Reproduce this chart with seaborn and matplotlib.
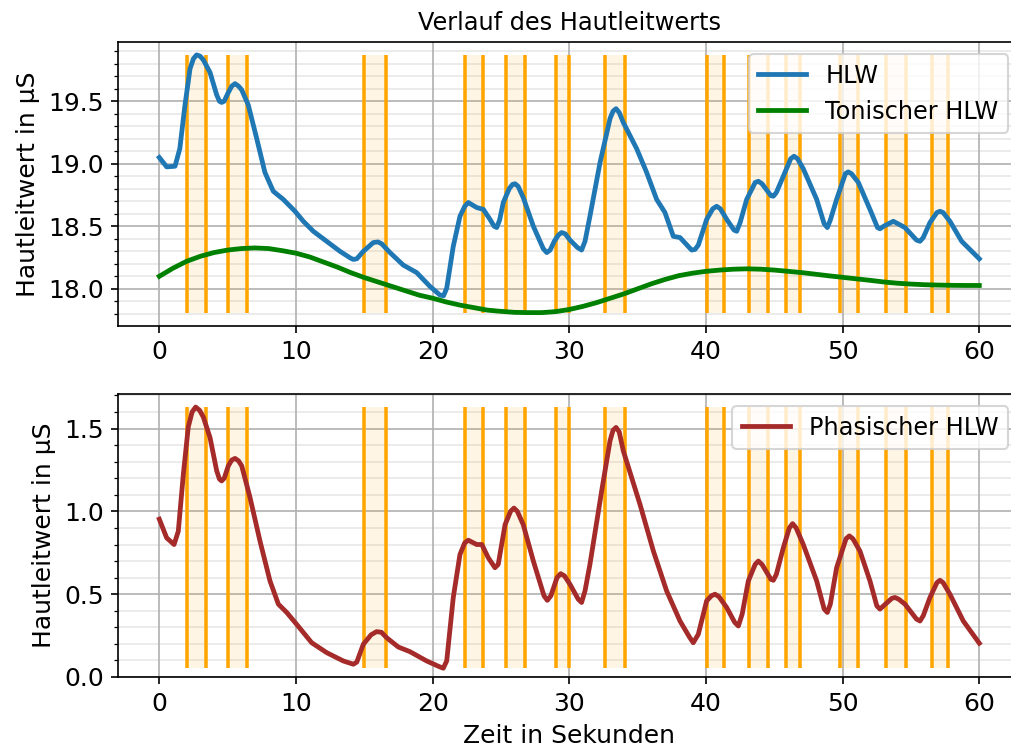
import numpy as np
import pandas as pd
import matplotlib
matplotlib.use("Agg")
import matplotlib.pyplot as plt
from matplotlib.ticker import AutoMinorLocator
import seaborn as sns

# ---- data ----
hlw_t = [0, 0.54, 1.15, 1.5, 1.88, 2.25, 2.5, 2.73, 2.98, 3.22, 3.71, 4.2, 4.4, 4.56, 4.75,
         5.05, 5.3, 5.54, 5.8, 6.03, 6.51, 7.13, 7.73, 8.34, 9.07, 9.93, 10.54, 11.27, 12.25,
         13.22, 14.0, 14.2, 14.45, 14.93, 15.66, 16.0, 16.27, 16.88, 17.85, 18.83, 19.8, 20.54,
         20.8, 21.03, 21.51, 22.0, 22.35, 22.61, 23.22, 23.71, 24.2, 24.5, 24.69, 24.9, 25.17,
         25.6, 25.85, 26.03, 26.25, 26.63, 27.37, 28.1, 28.35, 28.6, 28.9, 29.2, 29.44, 29.7,
         30.05, 30.6, 30.9, 31.15, 31.51, 32.25, 32.98, 33.2, 33.42, 33.65, 33.95, 34.93, 35.66,
         36.39, 37.0, 37.61, 38.1, 38.95, 39.2, 39.44, 40.05, 40.5, 40.78, 41.05, 41.52, 42.05,
         42.25, 42.5, 42.98, 43.6, 43.83, 44.1, 44.75, 44.93, 45.15, 45.66, 46.2, 46.44, 46.7,
         47.12, 48.1, 48.65, 48.88, 49.1, 49.56, 50.2, 50.41, 50.65, 51.15, 52.0, 52.55, 52.73,
         53.0, 53.71, 54.56, 55.4, 55.66, 55.9, 56.39, 56.9, 57.12, 57.35, 57.85, 58.71, 60.0]
hlw_v = [19.05, 18.975, 18.98, 19.12, 19.47, 19.76, 19.84, 19.87, 19.86, 19.83, 19.73, 19.55,
         19.50, 19.49, 19.50, 19.57, 19.62, 19.64, 19.62, 19.59, 19.47, 19.2, 18.93, 18.78,
         18.715, 18.62, 18.54, 18.46, 18.38, 18.30, 18.245, 18.235, 18.24, 18.30, 18.37, 18.375,
         18.36, 18.29, 18.19, 18.13, 18.02, 17.95, 17.945, 18.005, 18.34, 18.58, 18.66, 18.69,
         18.65, 18.635, 18.555, 18.5, 18.49, 18.55, 18.69, 18.80, 18.835, 18.84, 18.82, 18.73,
         18.50, 18.32, 18.29, 18.31, 18.38, 18.43, 18.45, 18.44, 18.39, 18.33, 18.31, 18.38,
         18.58, 19.01, 19.36, 19.42, 19.44, 19.41, 19.33, 19.12, 18.93, 18.715, 18.61, 18.42,
         18.41, 18.31, 18.315, 18.35, 18.555, 18.64, 18.66, 18.64, 18.555, 18.47, 18.46, 18.53,
         18.715, 18.85, 18.86, 18.84, 18.745, 18.74, 18.77, 18.90, 19.04, 19.06, 19.04, 18.96,
         18.715, 18.52, 18.49, 18.55, 18.715, 18.92, 18.935, 18.92, 18.85, 18.635, 18.49, 18.48,
         18.5, 18.54, 18.49, 18.39, 18.38, 18.41, 18.53, 18.61, 18.62, 18.61, 18.54, 18.38, 18.24]

ton_t = [0, 1, 2, 3, 4, 5, 6, 7, 8, 9, 10, 11, 12, 13, 14, 15, 16, 17, 18, 19, 20, 21, 22,
         23, 24, 25, 26, 27, 28, 29, 30, 31, 32, 33, 34, 35, 36, 37, 38, 39, 40, 41, 42, 43,
         44, 45, 46, 47, 48, 49, 50, 51, 52, 53, 54, 55, 56, 57, 58, 59, 60]
ton_v = [18.10, 18.165, 18.22, 18.26, 18.29, 18.31, 18.322, 18.327, 18.322, 18.305, 18.285,
         18.255, 18.215, 18.175, 18.13, 18.09, 18.055, 18.02, 17.985, 17.95, 17.925, 17.895,
         17.87, 17.85, 17.83, 17.82, 17.812, 17.81, 17.81, 17.818, 17.835, 17.86, 17.89,
         17.925, 17.96, 18.0, 18.04, 18.075, 18.105, 18.125, 18.14, 18.15, 18.157, 18.16,
         18.157, 18.15, 18.14, 18.13, 18.117, 18.104, 18.092, 18.08, 18.068, 18.055, 18.045,
         18.038, 18.033, 18.03, 18.028, 18.027, 18.027]

pha_t = [0, 0.54, 1.08, 1.39, 1.76, 2.12, 2.4, 2.66, 2.95, 3.22, 3.71, 4.2, 4.4, 4.56, 4.75,
         5.05, 5.3, 5.54, 5.8, 6.03, 6.64, 7.37, 8.1, 8.71, 9.32, 10.05, 11.15, 12.25, 13.46,
         14.0, 14.2, 14.45, 14.93, 15.5, 15.9, 16.25, 16.64, 17.49, 18.34, 19.56, 20.5, 20.78,
         21.03, 21.51, 22.0, 22.35, 22.61, 23.22, 23.6, 24.07, 24.56, 24.8, 25.3, 25.7, 25.95,
         26.2, 26.63, 27.37, 28.15, 28.39, 28.65, 29.1, 29.37, 29.65, 30.05, 30.65, 30.9, 31.15,
         31.51, 32.37, 32.98, 33.2, 33.42, 33.65, 33.95, 35.17, 36.15, 37.12, 38.1, 38.8, 39.07,
         39.44, 40.05, 40.4, 40.66, 40.95, 41.52, 42.1, 42.37, 42.65, 43.1, 43.6, 43.83, 44.1,
         44.75, 44.93, 45.15, 45.66, 46.1, 46.34, 46.6, 47.12, 48.1, 48.65, 48.88, 49.1, 49.56,
         50.25, 50.49, 50.75, 51.27, 52.0, 52.5, 52.73, 53.0, 53.6, 53.83, 54.1, 54.56, 55.4,
         55.66, 55.9, 56.39, 56.9, 57.12, 57.35, 57.85, 58.83, 60.0]
pha_v = [0.953, 0.84, 0.80, 0.88, 1.225, 1.51, 1.60, 1.63, 1.61, 1.57, 1.446, 1.245, 1.195,
         1.184, 1.2, 1.275, 1.31, 1.32, 1.305, 1.275, 1.083, 0.82, 0.58, 0.44, 0.39, 0.318,
         0.207, 0.147, 0.097, 0.082, 0.077, 0.09, 0.198, 0.255, 0.274, 0.27, 0.237, 0.181, 0.153,
         0.097, 0.062, 0.053, 0.097, 0.48, 0.74, 0.81, 0.826, 0.80, 0.80, 0.72, 0.66, 0.68,
         0.92, 1.0, 1.02, 1.0, 0.92, 0.70, 0.49, 0.463, 0.49, 0.6, 0.624, 0.61, 0.56, 0.47, 0.45,
         0.52, 0.68, 1.124, 1.426, 1.49, 1.507, 1.48, 1.366, 1.043, 0.761, 0.52, 0.338, 0.24,
         0.207, 0.258, 0.46, 0.49, 0.50, 0.485, 0.419, 0.33, 0.308, 0.38, 0.58, 0.68, 0.70, 0.68,
         0.59, 0.584, 0.62, 0.78, 0.9, 0.926, 0.9, 0.80, 0.58, 0.41, 0.39, 0.44, 0.66, 0.835,
         0.852, 0.835, 0.76, 0.58, 0.43, 0.41, 0.43, 0.475, 0.48, 0.47, 0.44, 0.35, 0.338, 0.37,
         0.48, 0.57, 0.584, 0.57, 0.50, 0.338, 0.204]

stim_on = [2.0, 5.05, 15.0, 22.35, 25.4, 29.0, 32.6, 40.05, 43.15, 45.85, 49.8, 53.2, 56.55]
stim_off = [3.4, 6.4, 16.6, 23.65, 26.75, 30.0, 34.1, 41.3, 44.55, 46.9, 51.15, 54.6, 57.7]

title = "Verlauf des Hautleitwerts"
ylab = "Hautleitwert in µS"
xlab = "Zeit in Sekunden"

# ---- figure ----
plt.rcParams['font.family'] = ['DejaVu Sans']
plt.rcParams['font.size'] = 12
W, H, DPI = 1011, 751, 150
fig = plt.figure(figsize=(W / DPI, H / DPI), dpi=DPI)
ax1 = fig.add_axes([118.3 / W, 1 - 325.5 / H, (1020.3 - 118.3) / W, (325.5 - 42) / H])
ax2 = fig.add_axes([118.3 / W, 1 - 677 / H, (1020.3 - 118.3) / W, (677 - 394) / H])


def stimuli(ax, lo, hi):
    for a, b in zip(stim_on, stim_off):
        ax.fill_betweenx([lo, hi], a, b, color='orange', alpha=0.1, lw=0, zorder=1)
    ax.vlines(stim_on + stim_off, lo, hi, colors='orange', lw=1.7, zorder=1.5)


stimuli(ax1, min(min(hlw_v), min(ton_v)), max(hlw_v))
sns.lineplot(x=hlw_t, y=hlw_v, ax=ax1, color='#1f77b4', lw=2.3, label='HLW', zorder=3)
sns.lineplot(x=ton_t, y=ton_v, ax=ax1, color='green', lw=2.3, label='Tonischer HLW', zorder=3)

stimuli(ax2, min(pha_v), max(pha_v))
sns.lineplot(x=pha_t, y=pha_v, ax=ax2, color='brown', lw=2.3, label='Phasischer HLW', zorder=3)
ax2.set_ylim(bottom=0)

for ax in (ax1, ax2):
    ax.set_xlim(-3, 63)
    ax.set_xticks([0, 10, 20, 30, 40, 50, 60])
    ax.yaxis.set_minor_locator(AutoMinorLocator(5))
    ax.grid(which='major', color='#b0b0b0', lw=0.8)
    ax.grid(which='minor', axis='y', color='#b0b0b0', lw=0.8, alpha=0.3)
    ax.set_axisbelow(True)
    ax.set_ylabel(ylab)
    ax.legend(loc='upper right', fontsize=11.5)

ax1.set_title(title, fontsize=11.5)
ax1.set_xlabel('')
ax2.set_xlabel(xlab)

fig.savefig('out.png', dpi=DPI)
